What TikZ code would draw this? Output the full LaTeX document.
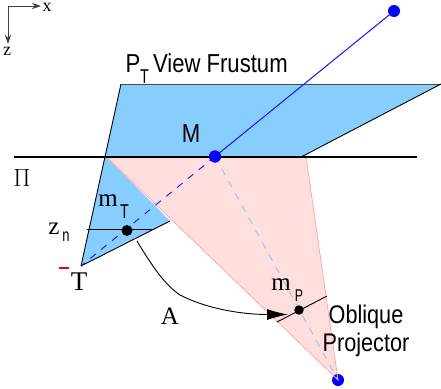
\documentclass[tikz,border=0pt]{standalone}
\usepackage{fontspec}
\setmainfont{Liberation Serif}
\newfontfamily\narrowsans[FakeStretch=0.85]{Liberation Sans}
\newfontfamily\narrowersans[FakeStretch=0.72]{Liberation Sans}
\usetikzlibrary{arrows.meta,calc}
\definecolor{frustblue}{RGB}{135,206,255}
\definecolor{projpink}{RGB}{255,222,222}
\definecolor{pinkedge}{RGB}{255,170,170}
\definecolor{dashblue}{RGB}{20,20,240}
\tikzset{
  lab/.style={inner sep=0pt,outer sep=0pt,anchor=center},
  sans/.style={lab,font=\narrowsans\fontsize{26}{28}\selectfont},
  objsans/.style={lab,font=\narrowsans\fontsize{25.5}{28}\selectfont},
  subsans/.style={lab,font=\narrowersans\fontsize{20}{22}\selectfont},
  serif/.style={lab,font=\fontsize{25}{26}\selectfont},
  axlabel/.style={lab,font=\fontsize{18}{19}\selectfont},
  blackdot/.style={circle,fill=black,inner sep=0pt,minimum size=11pt},
  bluedot/.style={circle,fill=blue,inner sep=0pt,minimum size=12pt},
  axis/.style={draw=black!75,line width=0.8pt,-{Stealth[length=9pt,width=6pt]}},
}
\begin{document}
\begin{tikzpicture}[x=1pt,y=-1pt]
\useasboundingbox (0,0) rectangle (441,388);
\coordinate (T) at (81,266);
\coordinate (TL) at (121,84);
\coordinate (TR) at (441,84);
\coordinate (PL) at (106,156.5);
\coordinate (PR) at (302,156.5);
\coordinate (PP) at (306,156.5);
\coordinate (LL) at (170,221);
\coordinate (O) at (8,6);
\coordinate (Xe) at (41,6);
\coordinate (Ze) at (8,44);
\coordinate (PiL) at (14,156.5);
\coordinate (PiR) at (417,156.5);
\coordinate (ZnL) at (87,229);
\coordinate (ZnR) at (153,229);
\coordinate (ImL) at (277,322);
\coordinate (ImR) at (327,296);
\coordinate (Rs) at (59,268);
\coordinate (Re) at (69,268);
\coordinate (As) at (137,241);
\coordinate (Am) at (180,295);
\coordinate (Ae) at (288,314.5);
% filled regions
\fill[frustblue] (T) -- (TL) -- (TR) -- (PR) -- (PL) -- (LL) -- cycle;
\fill[projpink] (PL) -- (PP) -- (338,380) -- cycle;
\node[bluedot] (Mp) at (215,156.5) {};
\node[bluedot] (Far) at (394,11) {};
\node[bluedot] (Proj) at (338,380) {};
\draw[pinkedge,line width=0.8pt] (PL) -- (Proj.center) -- (PP);
% frustum outline
\draw[black,line width=0.9pt] (T) -- (TL);
\draw[black!70,line width=1pt] (TL) -- (TR);
\draw[black,line width=0.9pt] (T) -- (LL);
\draw[black,line width=0.9pt] (PR) -- (TR);
\draw[black,line width=2pt] (PiL) -- (PiR);
\draw[black,line width=0.9pt] (ZnL) -- (ZnR);
\draw[black,line width=0.9pt] (ImL) -- (ImR);
% rays
\draw[dashblue,line width=1pt] (Mp.center) -- (Far.center);
\draw[dashblue,line width=0.9pt,dash pattern=on 7pt off 7pt] (Mp.center) -- (T);
\draw[frustblue,line width=1pt,dash pattern=on 7pt off 7pt] (Mp.center) -- (Proj.center);
\node[bluedot] at (Mp) {};
\node[blackdot] (mT) at (127,230.5) {};
\node[blackdot,minimum size=9.5pt] (mP) at (299,310) {};
\draw[red,line width=1.6pt] (Rs) -- (Re);
% mapping A
\draw[black,line width=0.9pt,-{Latex[length=21pt,width=11pt]}] (As) .. controls (152,266) and (165,285) .. (Am) .. controls (205,308) and (240,314.5) .. (Ae);
% axes
\draw[axis] (O) -- (Xe);
\draw[axis] (O) -- (Ze);
% labels
\node[axlabel] (xl) at (47,7) {x};
\node[axlabel] (zl) at (7,51) {z};
\node[sans,anchor=base west] (pf) at (125.5,72) {P};
\node[subsans] (pt) at (144.5,77) {T};
\node[sans,anchor=base west] (pf2) at (153,72) {View Frustum};
\node[sans] (Ml) at (191,134) {M};
\node[lab,font=\fontsize{26}{27}\selectfont] (Pi) at (22,178) {$\Pi$};
\node[serif] (mtl) at (108,201) {m};
\node[subsans] (mts) at (124.5,211.5) {T};
\node[serif] (znl) at (54,229) {z};
\node[subsans,font=\narrowersans\fontsize{18}{20}\selectfont] (zns) at (66,236.5) {n};
\node[serif,font=\fontsize{27}{28}\selectfont] (Tl) at (79,282) {T};
\node[serif] (Al) at (170,316.5) {A};
\node[serif] (mpl) at (281,285) {m};
\node[subsans,font=\narrowersans\fontsize{17}{18}\selectfont] (mps) at (299,295.5) {P};
\node[objsans] (ob) at (366,317) {Oblique};
\node[objsans] (pr) at (366,345) {Projector};
\end{tikzpicture}
\end{document}
